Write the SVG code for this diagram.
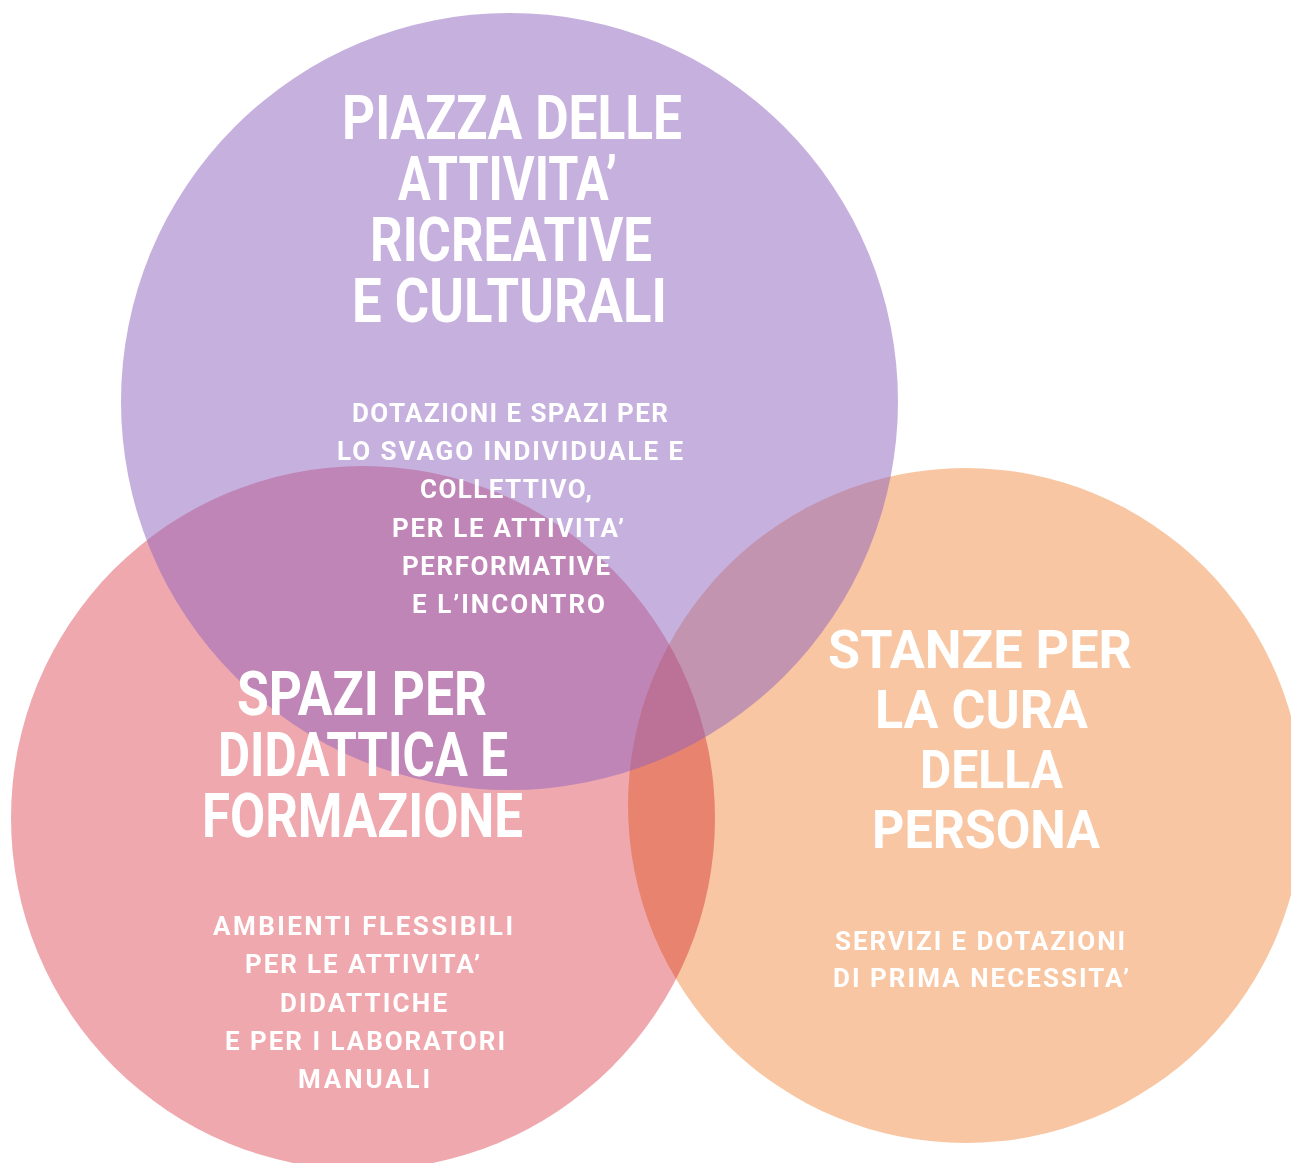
<svg xmlns="http://www.w3.org/2000/svg" width="1291" height="1163" viewBox="0 0 1291 1163">
  <style>
    .title { font-family: Roboto, "Liberation Sans", sans-serif; font-weight: 700; fill: #ffffff; }
    .t62 { font-size: 62px; }
    .t54 { font-size: 54px; }
    .sub { font-family: Roboto, "Liberation Sans", sans-serif; font-weight: 700; font-size: 26px; fill: #ffffff; }
    .mul { mix-blend-mode: multiply; }
  </style>
  <rect x="0" y="0" width="1291" height="1163" fill="#ffffff"/>
  <g id="circles">
    <circle id="circle-didattica" class="mul" cx="363" cy="818" r="352" fill="#EFA9AE"/>
    <circle id="circle-cura" class="mul" cx="965.5" cy="805.5" r="337.5" fill="#F8C6A2"/>
    <circle id="circle-piazza" cx="509.5" cy="401.5" r="388.5" fill="#8D61BD" fill-opacity="0.5"/>
  </g>
  <g id="node-piazza">
    <text class="title t62" x="342" y="139" textLength="340" lengthAdjust="spacingAndGlyphs">PIAZZA DELLE</text>
    <text class="title t62" x="398" y="200" textLength="219" lengthAdjust="spacingAndGlyphs">ATTIVITA’</text>
    <text class="title t62" x="370" y="261" textLength="282" lengthAdjust="spacingAndGlyphs">RICREATIVE</text>
    <text class="title t62" x="352" y="322" textLength="315" lengthAdjust="spacingAndGlyphs">E CULTURALI</text>
    <text class="sub" x="352" y="422" textLength="316">DOTAZIONI E SPAZI PER</text>
    <text class="sub" x="337" y="460" textLength="346">LO SVAGO INDIVIDUALE E</text>
    <text class="sub" x="420" y="498" textLength="172">COLLETTIVO,</text>
    <text class="sub" x="392" y="537" textLength="232">PER LE ATTIVITA’</text>
    <text class="sub" x="402" y="575" textLength="208">PERFORMATIVE</text>
    <text class="sub" x="412" y="613" textLength="193">E L’INCONTRO</text>
  </g>
  <g id="node-didattica">
    <text class="title t62" x="237" y="715" textLength="250" lengthAdjust="spacingAndGlyphs">SPAZI PER</text>
    <text class="title t62" x="218" y="776" textLength="290" lengthAdjust="spacingAndGlyphs">DIDATTICA E</text>
    <text class="title t62" x="202" y="837" textLength="321" lengthAdjust="spacingAndGlyphs">FORMAZIONE</text>
    <text class="sub" x="213" y="935" textLength="300">AMBIENTI FLESSIBILI</text>
    <text class="sub" x="245" y="973" textLength="235">PER LE ATTIVITA’</text>
    <text class="sub" x="280" y="1012" textLength="167">DIDATTICHE</text>
    <text class="sub" x="225" y="1050" textLength="280">E PER I LABORATORI</text>
    <text class="sub" x="298" y="1088" textLength="132">MANUALI</text>
  </g>
  <g id="node-cura">
    <text class="title t54" x="828" y="668" textLength="304" lengthAdjust="spacingAndGlyphs">STANZE PER</text>
    <text class="title t54" x="875" y="728" textLength="213" lengthAdjust="spacingAndGlyphs">LA CURA</text>
    <text class="title t54" x="920" y="788" textLength="143" lengthAdjust="spacingAndGlyphs">DELLA</text>
    <text class="title t54" x="872" y="848" textLength="228" lengthAdjust="spacingAndGlyphs">PERSONA</text>
    <text class="sub" x="835" y="950" textLength="290">SERVIZI E DOTAZIONI</text>
    <text class="sub" x="833" y="987" textLength="296">DI PRIMA NECESSITA’</text>
  </g>
</svg>
